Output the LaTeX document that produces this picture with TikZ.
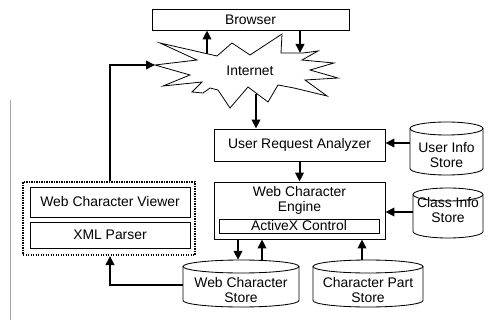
\documentclass[tikz,border=0pt]{standalone}
\usepackage{fontspec}
\setmainfont{Liberation Sans}
\usetikzlibrary{arrows.meta}
\tikzset{
  boxline/.style={draw=black, line width=0.85pt},
  plainbox/.style={boxline, rectangle, inner sep=0pt, align=center},
  txt/.style={inner sep=0pt, align=center, font=\fontsize{13.9}{15}\selectfont},
  arr/.style={line width=2pt, -{Triangle[length=9pt,width=8.5pt]}},
  ghost/.style={rectangle, inner sep=0pt, draw=none},
  dotbox/.style={draw=black, line width=2pt, dash pattern=on 1.4pt off 1.1pt},
}
\newcommand\drawcyl[4]{%
  \draw[boxline, fill=white] ({(#1+#2)/2},{#3+6.5}) ellipse[x radius={(#2-#1)/2}, y radius=6.5];
  \draw[boxline] (#1,{#3+6.5}) -- (#1,{#4-6.5}) arc[start angle=180, end angle=0, x radius={(#2-#1)/2}, y radius=6.5] -- (#2,{#3+6.5});
}
\begin{document}
\begin{tikzpicture}[x=1pt,y=-1pt]
\useasboundingbox (0,0) rectangle (494,320);
\fill[white] (0,0) rectangle (494,320);
% scan margin line
\draw[gray!70, line width=0.8pt] (10,100) -- (10,320);

% Browser
\node[plainbox, txt, minimum width=197, minimum height=21] (browser) at (250.5,19.5) {Browser};

% Internet star
\draw[boxline, line width=0.8pt] (155,65) -- (197,60) -- (160,43) -- (217,56) -- (232,43) -- (250,55) -- (282,34) -- (281,53) -- (303,53) -- (318,51) -- (302,60) -- (334,63) -- (310,70) -- (338,78) -- (305,80) -- (327,96) -- (294,88) -- (278,85) -- (268,102) -- (248,87) -- (230,108) -- (218,90) -- (210,88) -- (203,93) -- (192,92) -- (202,82) -- (163,86) -- (190,75) -- cycle;
\node[txt] (inet) at (250,71) {Internet};
\coordinate (inetL) at (155,65);
\coordinate (inetT) at (207,53.7);
\coordinate (inetD) at (300,53);
\coordinate (inetB) at (256,93.6);

% User Request Analyzer
\node[plainbox, txt, minimum width=171, minimum height=32] (ura) at (299.5,145) {User Request Analyzer};

% Web Character Engine
\node[plainbox, minimum width=171, minimum height=57] (wce) at (299.5,210.5) {};
\node[txt] (wcet) at (299.5,200) {Web Character\\Engine};
\node[plainbox, txt, minimum width=160, minimum height=14] (activex) at (299,226) {ActiveX Control};

% Stores
\drawcyl{410}{483}{122}{175}
\node[ghost, minimum width=73, minimum height=53] (uis) at (446.5,148.5) {};
\node[txt] (uist) at (446.5,155.5) {User Info\\Store};

\drawcyl{413}{483}{188}{238}
\node[ghost, minimum width=70, minimum height=50] (cis) at (448,213) {};
\node[txt] (cist) at (448,210.5) {Class Info\\Store};

\drawcyl{183}{299}{260}{307}
\node[ghost, minimum width=116, minimum height=47] (wcs) at (241,283.5) {};
\node[txt] (wcst) at (241,290) {Web Character\\Store};

\drawcyl{313}{423}{260}{307}
\node[ghost, minimum width=110, minimum height=47] (cps) at (368,283.5) {};
\node[txt] (cpst) at (368,290) {Character Part\\Store};

% Client side
\node[dotbox, rectangle, minimum width=172, minimum height=73] (client) at (109,218.5) {};
\node[plainbox, txt, minimum width=160, minimum height=30] (viewer) at (110,202) {Web Character Viewer};
\node[plainbox, txt, minimum width=160, minimum height=26] (parser) at (110,235) {XML Parser};

% Connectors
\draw[arr] (inetT) -- (inetT |- browser.south);
\draw[arr] (inetD |- browser.south) -- (inetD);
\draw[arr] (inetB) -- (inetB |- ura.north);
\draw[arr] (uis.west |- 0,143) -- (ura.east |- 0,143);
\draw[arr] (ura.south) -- (wce.north);
\draw[arr] (cis.west |- 0,212) -- (wce.east |- 0,212);
\draw[arr] (wce.south -| 238,0) -- (wcs.north -| 238,0);
\draw[arr] (wcs.north -| 262,0) -- (wce.south -| 262,0);
\draw[arr] (cps.north -| 362,0) -- (wce.south -| 362,0);
\draw[arr] (wcs.west |- 0,285) -| (client.south -| 110,0);
\draw[arr] (client.north -| 110,0) |- (inetL);
\end{tikzpicture}
\end{document}
